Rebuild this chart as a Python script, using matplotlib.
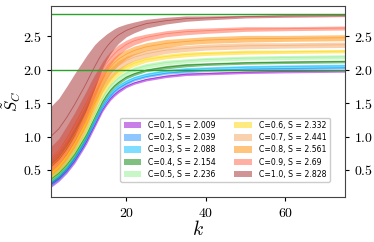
import numpy as np
import matplotlib
matplotlib.use("Agg")
import matplotlib.pyplot as plt
from matplotlib.ticker import FuncFormatter

plt.rcParams['mathtext.fontset'] = 'cm'

k = [1, 3, 5, 7, 9, 10, 11, 12, 13, 14, 15, 16, 17, 18, 20, 22, 25, 30, 35, 40, 50, 60, 75]

C_values = [0.1, 0.2, 0.3, 0.4, 0.5, 0.6, 0.7, 0.8, 0.9, 1.0]
S_values = ["2.009", "2.039", "2.088", "2.154", "2.236", "2.332", "2.441", "2.561", "2.69", "2.828"]
colors = ["darkviolet", "dodgerblue", "deepskyblue", "green", "lightgreen",
          "gold", "sandybrown", "darkorange", "tomato", "brown"]

lower_01 = [0.24, 0.33, 0.45, 0.60, 0.79, 0.89, 1.01, 1.13, 1.25, 1.37, 1.46, 1.54, 1.60, 1.65, 1.73, 1.78, 1.83, 1.88, 1.91, 1.92, 1.94, 1.95, 1.96]
upper_01 = [0.32, 0.40, 0.52, 0.67, 0.86, 0.96, 1.08, 1.19, 1.31, 1.42, 1.51, 1.59, 1.65, 1.70, 1.77, 1.82, 1.87, 1.92, 1.95, 1.96, 1.98, 1.99, 2.00]
lower_02 = [0.26, 0.35, 0.47, 0.63, 0.82, 0.93, 1.05, 1.17, 1.29, 1.41, 1.50, 1.58, 1.65, 1.70, 1.77, 1.83, 1.88, 1.93, 1.95, 1.97, 1.99, 2.00, 2.01]
upper_02 = [0.35, 0.43, 0.55, 0.70, 0.89, 0.99, 1.11, 1.23, 1.35, 1.46, 1.55, 1.63, 1.69, 1.74, 1.81, 1.86, 1.91, 1.96, 1.99, 2.00, 2.02, 2.03, 2.04]
lower_03 = [0.28, 0.37, 0.49, 0.65, 0.84, 0.95, 1.07, 1.19, 1.31, 1.43, 1.52, 1.60, 1.67, 1.72, 1.79, 1.85, 1.90, 1.95, 1.97, 1.99, 2.01, 2.02, 2.03]
upper_03 = [0.38, 0.47, 0.58, 0.74, 0.92, 1.03, 1.15, 1.26, 1.38, 1.49, 1.59, 1.66, 1.73, 1.78, 1.85, 1.90, 1.95, 2.00, 2.03, 2.04, 2.06, 2.07, 2.08]
lower_04 = [0.30, 0.39, 0.52, 0.68, 0.88, 0.98, 1.11, 1.24, 1.36, 1.48, 1.58, 1.66, 1.73, 1.78, 1.86, 1.91, 1.97, 2.01, 2.04, 2.06, 2.08, 2.09, 2.10]
upper_04 = [0.42, 0.51, 0.63, 0.78, 0.97, 1.07, 1.19, 1.31, 1.43, 1.55, 1.64, 1.72, 1.78, 1.83, 1.91, 1.96, 2.01, 2.06, 2.09, 2.10, 2.12, 2.13, 2.14]
lower_05 = [0.32, 0.41, 0.54, 0.71, 0.91, 1.02, 1.15, 1.28, 1.41, 1.53, 1.63, 1.71, 1.78, 1.83, 1.91, 1.97, 2.02, 2.07, 2.10, 2.12, 2.14, 2.15, 2.16]
upper_05 = [0.46, 0.55, 0.67, 0.83, 1.02, 1.13, 1.25, 1.38, 1.50, 1.61, 1.71, 1.79, 1.85, 1.91, 1.98, 2.04, 2.09, 2.14, 2.16, 2.18, 2.20, 2.21, 2.22]
lower_06 = [0.35, 0.45, 0.58, 0.75, 0.96, 1.07, 1.21, 1.34, 1.47, 1.59, 1.70, 1.78, 1.85, 1.91, 1.99, 2.05, 2.11, 2.16, 2.19, 2.21, 2.23, 2.24, 2.25]
upper_06 = [0.52, 0.64, 0.82, 1.03, 1.24, 1.35, 1.47, 1.58, 1.68, 1.77, 1.86, 1.92, 1.98, 2.02, 2.09, 2.14, 2.19, 2.23, 2.26, 2.27, 2.29, 2.29, 2.30]
lower_07 = [0.38, 0.48, 0.61, 0.79, 1.00, 1.12, 1.26, 1.39, 1.53, 1.66, 1.76, 1.85, 1.92, 1.98, 2.07, 2.13, 2.18, 2.24, 2.27, 2.29, 2.31, 2.32, 2.33]
upper_07 = [0.60, 0.72, 0.91, 1.12, 1.33, 1.45, 1.56, 1.68, 1.78, 1.88, 1.96, 2.03, 2.08, 2.13, 2.20, 2.24, 2.29, 2.34, 2.36, 2.38, 2.40, 2.40, 2.41]
lower_08 = [0.42, 0.52, 0.66, 0.84, 1.06, 1.18, 1.32, 1.47, 1.61, 1.74, 1.85, 1.94, 2.01, 2.07, 2.16, 2.22, 2.28, 2.33, 2.37, 2.39, 2.41, 2.42, 2.43]
upper_08 = [0.70, 0.82, 1.01, 1.22, 1.44, 1.55, 1.67, 1.78, 1.89, 1.98, 2.07, 2.13, 2.19, 2.24, 2.30, 2.35, 2.40, 2.45, 2.47, 2.49, 2.51, 2.51, 2.52]
lower_09 = [0.48, 0.59, 0.73, 0.92, 1.16, 1.28, 1.43, 1.58, 1.72, 1.86, 1.98, 2.07, 2.15, 2.21, 2.31, 2.37, 2.43, 2.49, 2.52, 2.54, 2.57, 2.58, 2.59]
upper_09 = [0.85, 0.97, 1.16, 1.36, 1.58, 1.69, 1.81, 1.92, 2.02, 2.12, 2.20, 2.27, 2.32, 2.37, 2.44, 2.49, 2.53, 2.58, 2.61, 2.62, 2.64, 2.64, 2.65]
lower_10 = [0.55, 0.66, 0.82, 1.02, 1.27, 1.40, 1.56, 1.71, 1.87, 2.02, 2.14, 2.24, 2.32, 2.39, 2.49, 2.55, 2.62, 2.68, 2.72, 2.74, 2.77, 2.78, 2.79]
upper_10 = [1.45, 1.57, 1.75, 1.94, 2.12, 2.21, 2.29, 2.37, 2.43, 2.48, 2.53, 2.57, 2.61, 2.64, 2.68, 2.71, 2.75, 2.78, 2.80, 2.80, 2.81, 2.82, 2.82]

ref_lines = [2.0, 2.828]

lowers = [lower_01, lower_02, lower_03, lower_04, lower_05,
          lower_06, lower_07, lower_08, lower_09, lower_10]
uppers = [upper_01, upper_02, upper_03, upper_04, upper_05,
          upper_06, upper_07, upper_08, upper_09, upper_10]

fig = plt.figure(figsize=(3.74, 2.42), dpi=100)
ax = fig.add_axes([0.136, 0.186, 0.786, 0.789])

for c, s, col, lo, hi in zip(C_values, S_values, colors, lowers, uppers):
    ax.fill_between(k, lo, hi, color=col, alpha=0.5, lw=0,
                    label=f"C={c}, S = {s}")
    mid = (np.array(lo) + np.array(hi)) / 2
    ax.plot(k, mid, color=col, lw=0.6, alpha=0.6)

for y in ref_lines:
    ax.axhline(y, color="tab:green", lw=1.0)

ax.set_xlim(1, 75)
ax.set_ylim(0.097, 2.948)
ax.set_xticks([20, 40, 60])
ax.set_yticks([0.5, 1.0, 1.5, 2.0, 2.5])
ax.xaxis.set_major_formatter(FuncFormatter(lambda v, p: f"${v:.0f}$"))
ax.yaxis.set_major_formatter(FuncFormatter(lambda v, p: f"${v:.1f}$"))
ax.tick_params(axis="y", right=True, labelright=True, labelsize=10, length=3)
ax.tick_params(axis="x", labelsize=10, length=3)
for sp in ax.spines.values():
    sp.set_color("#444444")

ax.set_xlabel(r"$k$", fontsize=14, labelpad=0)
ax.set_ylabel(r"$\tilde{S}_C$", fontsize=12, labelpad=0)

ax.legend(ncol=2, fontsize=5.6, loc="lower right",
          bbox_to_anchor=(0.949, 0.079), borderaxespad=0,
          handlelength=2.3, handleheight=0.9, handletextpad=0.9,
          columnspacing=2.3, labelspacing=0.42, borderpad=0.4,
          framealpha=1)

fig.savefig("out.png", dpi=100)
